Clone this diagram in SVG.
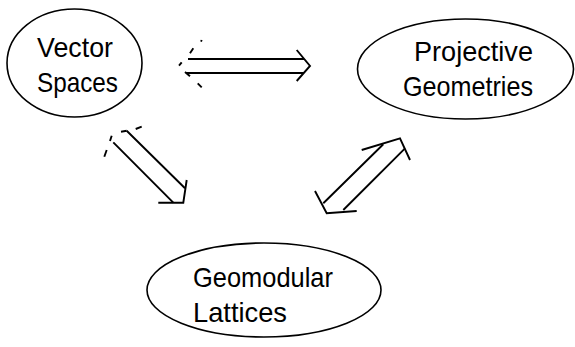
<svg xmlns="http://www.w3.org/2000/svg" width="575" height="347" viewBox="0 0 575 347">
<style>
.node ellipse{fill:none;stroke:#000;stroke-width:1.6}
.node text{font-family:"Liberation Sans",Arial,sans-serif;font-size:28px;fill:#000}
.conn path{fill:none;stroke:#000;stroke-width:1.9;stroke-linecap:butt;stroke-linejoin:miter}
</style>
<rect width="575" height="347" fill="#fff"/>
<g id="vector-spaces" class="node">
<ellipse cx="74.5" cy="63" rx="67.5" ry="54"/>
<text x="37" y="57" textLength="76" lengthAdjust="spacingAndGlyphs">Vector</text>
<text x="37" y="92" textLength="81" lengthAdjust="spacingAndGlyphs">Spaces</text>
</g>
<g id="projective-geometries" class="node">
<ellipse cx="465.5" cy="69" rx="108" ry="50"/>
<text x="414" y="61" textLength="119" lengthAdjust="spacingAndGlyphs">Projective</text>
<text x="403" y="96" textLength="130" lengthAdjust="spacingAndGlyphs">Geometries</text>
</g>
<g id="geomodular-lattices" class="node">
<ellipse cx="264" cy="290" rx="117" ry="47"/>
<text x="193" y="287" textLength="140" lengthAdjust="spacingAndGlyphs">Geomodular</text>
<text x="193" y="322" textLength="94" lengthAdjust="spacingAndGlyphs">Lattices</text>
</g>
<g id="connectors" class="conn">
<!-- Vector Spaces <=> Projective Geometries -->
<path d="M188,59 H304 M186,73 H304"/>
<path d="M296.7,50 L310,66 L296.7,81"/>
<path d="M201.7,40 L201,41.7 M193.3,48.3 L190,53.3 M181.7,62.3 L179,65.7 M185,72 L190,76.2 M197.7,83.3 L201.7,87.3"/>
<!-- Vector Spaces => Geomodular Lattices -->
<path d="M126.7,130.7 L185,188.3 M113.3,142.3 L173.3,202.7"/>
<path d="M186.7,180 L183.3,202.7 L158.3,202.7"/>
<path d="M121,131.7 L126.7,130.7 M135.7,129 L141.7,126.7 M111.7,135.7 L110,141 M106.7,150 L104.3,156.7"/>
<!-- Projective Geometries <=> Geomodular Lattices -->
<path d="M323.3,203.3 L383.3,144.3 M343.3,210 L405,148.3"/>
<path d="M361.7,150 L400,138.3 L410,160"/>
<path d="M315,191 L326.7,213.3 L356.7,211"/>
</g>
</svg>
